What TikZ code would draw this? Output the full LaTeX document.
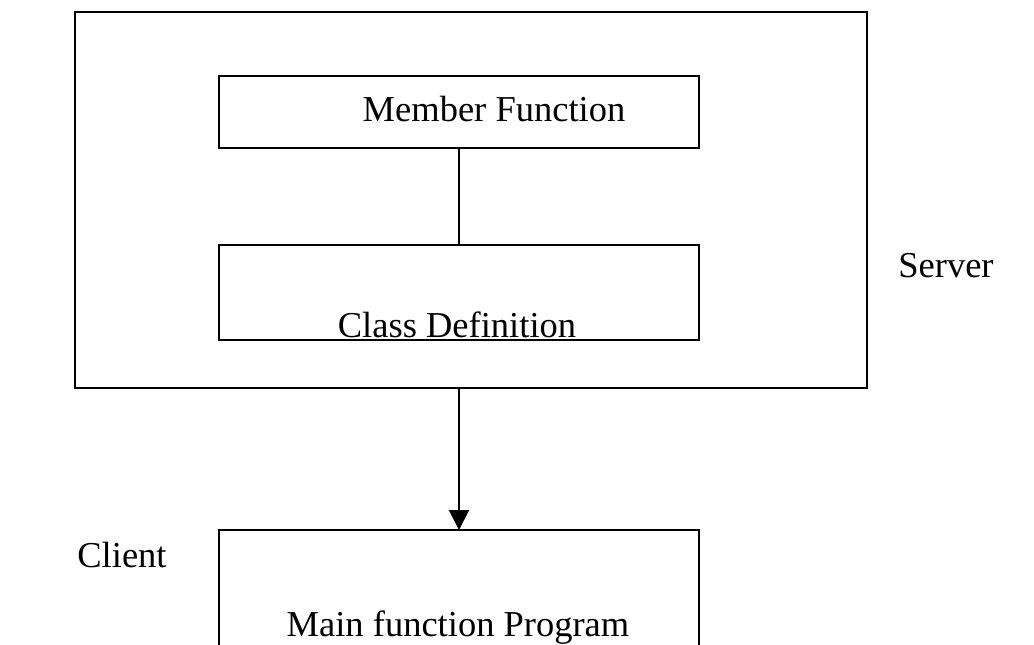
\documentclass[tikz,border=0pt]{standalone}
\usepackage{fontspec}
\setmainfont{Liberation Serif}
\usetikzlibrary{arrows.meta}
\begin{document}
\begin{tikzpicture}[x=1pt,y=-1pt,
  box/.style={draw=black,line width=2pt,minimum width=#1,inner sep=0pt,outer sep=0pt},
  lbl/.style={anchor=base,inner sep=0pt,font=\fontsize{36.5}{40}\selectfont},
  link/.style={draw=black,line width=2pt}]
\useasboundingbox (0,0) rectangle (1034,645);
\node[box=792pt,minimum height=376pt] (outer) at (471,200) {};
\node[box=480pt,minimum height=72pt] (mf) at (459,112) {};
\node[box=480pt,minimum height=95pt] (cd) at (459,292.5) {};
\coordinate (mainL) at (219,660);
\coordinate (mainTL) at (219,530);
\coordinate (mainTR) at (699,530);
\coordinate (mainR) at (699,660);
\coordinate (mainT) at (459,530);
\draw[link] (mainL) -- (mainTL) -- (mainTR) -- (mainR);
\node[lbl] (mft) at (494,121) {Member Function};
\node[lbl] (cdt) at (457,337) {Class Definition};
\node[lbl] (mpt) at (458,636) {Main function Program};
\node[lbl] (server) at (946,277) {Server};
\node[lbl] (client) at (122,567) {Client};
\draw[link] (mf.south) -- (cd.north);
\draw[link,-{Triangle[length=20pt,width=20pt]}] (mf.south |- outer.south) -- (mainT);
\end{tikzpicture}
\end{document}
